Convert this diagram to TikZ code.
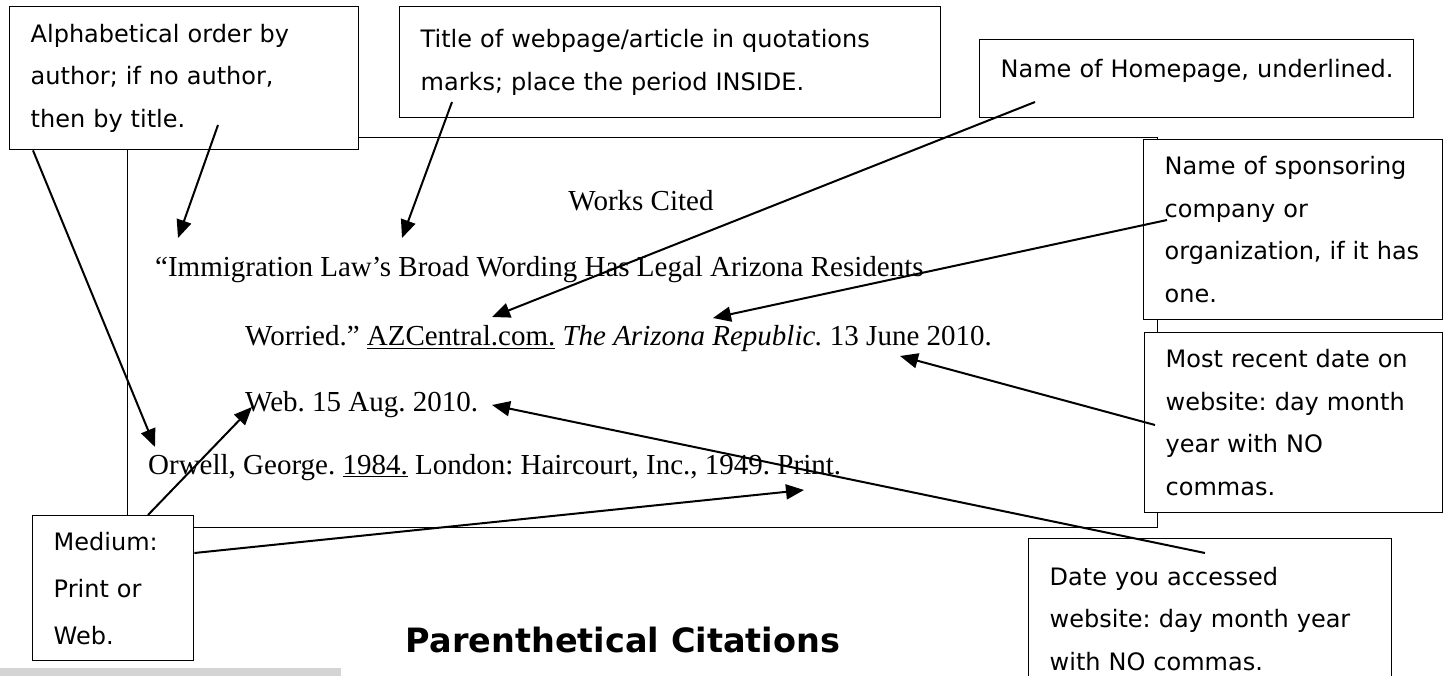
\documentclass[tikz,border=0pt]{standalone}
\usepackage{fontspec}
\setmainfont{Liberation Serif}
\newfontfamily\notefont{DejaVu Sans}
\usepackage{tikz}
\usetikzlibrary{arrows.meta,positioning}
\frenchspacing

\tikzset{
  note/.style={draw, line width=1.4pt, fill=white, anchor=north west,
    inner xsep=21pt, inner ysep=0pt, align=left,
    font=\notefont\fontsize{24}{42.5}\selectfont},
  cite/.style={anchor=base west, inner sep=0pt, font=\fontsize{29}{35}\selectfont},
  pointer/.style={line width=2pt, -{Triangle[length=18pt,width=15pt]}}
}

\begin{document}
\begin{tikzpicture}[x=1pt,y=-1pt]
        \useasboundingbox (0,0) rectangle (1444,676);
        \fill[black!17] (0,668) rectangle (341,676);
        \node[draw, line width=1.4pt, anchor=north west, minimum width=1030pt,
          minimum height=390pt] (page) at (127,137) {};
        \node[note, text width=307pt, minimum height=143pt] (alpha) at (9,6)
          {Alphabetical order by\\ author; if no author,\\ then by title.};
        \node[note, text width=499pt, minimum height=111pt] (title) at (399,6)
          {Title of webpage/article in quotations\\ marks; place the period INSIDE.};
        \node[note, text width=392pt, minimum height=78pt, text depth=21pt] (home) at (979,39)
          {\mbox{Name of Homepage, underlined.}};
        \node[note, text width=257pt, minimum height=180pt] (spons) at (1143,139)
          {Name~of~sponsoring\\ company or\\ \mbox{organization, if it has}\\ one.};
        \node[note, text width=256pt, minimum height=180pt] (recent) at (1144,332)
          {\mbox{Most recent date on}\\ website: day month\\ year with NO\\ commas.};
        \node[note, text width=321pt, minimum height=160pt] (access) at (1028,538)
          {Date you accessed\\ \mbox{website: day month year}\\ with NO commas.};
        \node[note, text width=119pt, minimum height=145pt,
          font=\notefont\fontsize{24}{47}\selectfont] (medium) at (32,515)
          {Medium:\\ Print or\\ Web.};

        \node[cite, anchor=base] (wc) at (641,211) {Works Cited};
        \node[cite] (imm) at (155,277) {``Immigration Law’s Broad Wording Has Legal Arizona Residents};
        \node[cite] (wor) at (245,346) {Worried.'' \underline{AZCentral.com.} \textit{The Arizona Republic.} 13 June 2010.};
        \node[cite] (web) at (245,412) {Web. 15 Aug. 2010.};
        \node[cite] (orw) at (148,474) {Orwell, George. \underline{1984.} London: Haircourt, Inc., 1949. Print.};
        \node[font=\notefont\bfseries\fontsize{33.5}{40}\selectfont] (head) at (623,640) {Parenthetical Citations};

        \coordinate (sort1) at (218,125);
        \coordinate (sort2) at ([xshift=24pt]alpha.south west);
        \coordinate (title1) at (452,102);
        \coordinate (home1) at (1035,102);
        \coordinate (spons1) at (1167,220);
        \coordinate (recent1) at (1155,425);
        \coordinate (access1) at (1205,553);
        \coordinate (medium1) at ([xshift=116pt]medium.north west);
        \coordinate (medium2) at ([yshift=-38pt]medium.north east);
        \coordinate (quote) at (178,238);
        \coordinate (titletip) at (402,238);
        \coordinate (hometip) at (492,317);
        \coordinate (sponstip) at (713,318);
        \coordinate (recenttip) at (900,356);
        \coordinate (accesstip) at (492,405);
        \coordinate (orwtip) at (155,447);
        \coordinate (webtip) at (252,407);
        \coordinate (printtip) at (804,490);

        \draw[pointer] (sort1) -- (quote);
        \draw[pointer] (sort2) -- (orwtip);
        \draw[pointer] (title1) -- (titletip);
        \draw[pointer] (home1) -- (hometip);
        \draw[pointer] (spons1) -- (sponstip);
        \draw[pointer] (recent1) -- (recenttip);
        \draw[pointer] (access1) -- (accesstip);
        \draw[pointer] (medium1) -- (webtip);
        \draw[pointer] (medium2) -- (printtip);
    \end{tikzpicture}
\end{document}
